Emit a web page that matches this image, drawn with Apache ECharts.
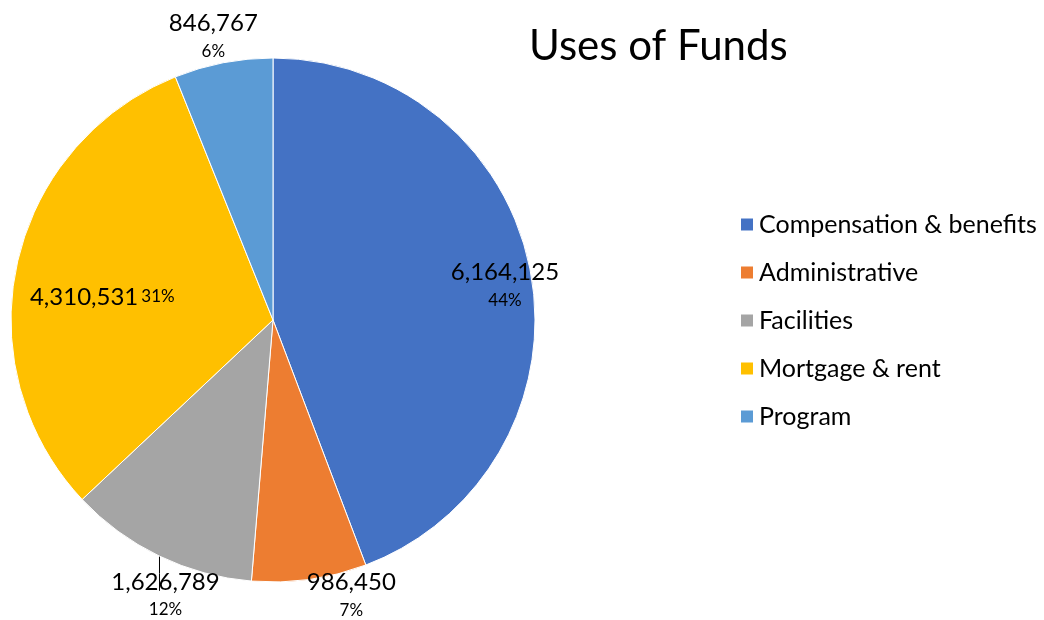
<!DOCTYPE html>
<html>
<head>
<meta charset="utf-8">
<script src="https://cdn.jsdelivr.net/npm/echarts@6/dist/echarts.min.js"></script>
<style>
  html, body { margin: 0; padding: 0; background: #fff; }
  #chart { width: 1044px; height: 620px; }
</style>
</head>
<body>
<div id="chart"></div>
<script>
var categories = ['Compensation & benefits', 'Administrative', 'Facilities', 'Mortgage & rent', 'Program'];
var amounts = [6164125, 986450, 1626789, 4310531, 846767];
var colors = ['#4472C4', '#ED7D31', '#A5A5A5', '#FFC000', '#5B9BD5'];

var cx = 273, cy = 320, r = 262;
// label spot per slice: radial factor, x nudge, y nudge
var spots = [[0.9, 0, 8], [1.05, 40, 3], [1.05, 12, 27], [0.675, 2, 15], [1.1, -5, -1]];

var total = amounts.reduce(function (a, b) { return a + b; }, 0);
var mids = [];
var acc = 0;
amounts.forEach(function (v) {
  mids.push((acc + v / 2) / total * Math.PI * 2);
  acc += v;
});

var myChart = echarts.init(document.getElementById('chart'));
var option = {
  animation: false,
  title: {
    text: 'Uses of Funds',
    left: 524,
    top: 20,
    textStyle: { fontFamily: 'Lato', fontSize: 42, fontWeight: 'normal', color: '#000' }
  },
  legend: {
    orient: 'vertical',
    left: 734,
    top: 207,
    itemWidth: 14,
    itemHeight: 14,
    itemGap: 23,
    icon: 'rect',
    textStyle: { fontFamily: 'Lato', fontSize: 25, lineHeight: 25, color: '#000' },
    data: categories
  },
  series: [
    {
      type: 'pie',
      center: [cx, cy],
      radius: r,
      startAngle: 90,
      clockwise: true,
      itemStyle: { borderColor: '#fff', borderWidth: 1 },
      label: {
        position: 'outside',
        color: '#000',
        fontFamily: 'Lato',
        overflow: 'none',
        formatter: function (p) {
          var v = p.value.toLocaleString('en-US');
          var pc = Math.round(p.percent) + '%';
          if (p.dataIndex === 3) return '{v|' + v + '} {p|' + pc + '}';
          return '{v|' + v + '}\n{p|' + pc + '}';
        },
        rich: {
          v: { fontFamily: 'Lato', fontSize: 24, color: '#000', lineHeight: 30 },
          p: { fontFamily: 'Lato', fontSize: 17, color: '#000', lineHeight: 26 }
        }
      },
      labelLine: { show: false },
      labelLayout: function (p) {
        var i = p.dataIndex;
        var s = spots[i];
        var x = cx + Math.sin(mids[i]) * r * s[0] + s[1];
        var y = cy - Math.cos(mids[i]) * r * s[0] + s[2];
        var res = { x: x, y: y, align: 'center', verticalAlign: 'middle', hideOverlap: false };
        if (i === 2) {
          var lx = x - 6;
          var ey = cy + Math.sqrt(r * r - (lx - cx) * (lx - cx));
          var endY = y - 4;
          res.labelLinePoints = [[lx, ey], [lx, (ey + endY) / 2], [lx, endY]];
        }
        return res;
      },
      data: categories.map(function (c, i) {
        var d = { name: c, value: amounts[i], itemStyle: { color: colors[i] } };
        if (i === 2) d.labelLine = { show: true, lineStyle: { color: '#000', width: 1 } };
        return d;
      })
    }
  ]
};
myChart.setOption(option);
</script>
</body>
</html>
